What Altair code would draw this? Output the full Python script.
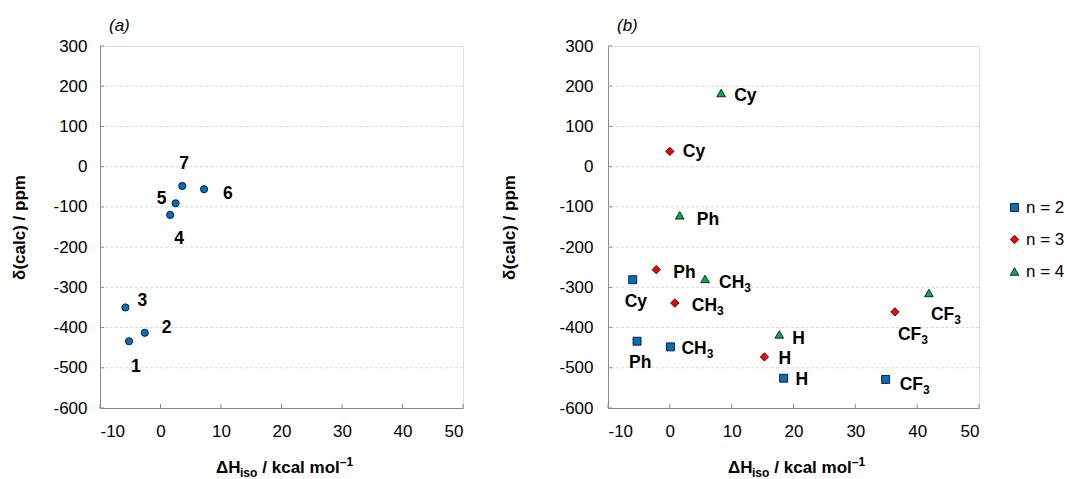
import altair as alt
import pandas as pd

# ---------------- data ----------------
# panel (a)
a_x = [-5.2, -2.6, -5.8, 1.6, 2.5, 7.2, 3.6]
a_y = [-434, -413, -350, -120, -91, -56, -48]
a_labels = ["1", "2", "3", "4", "5", "6", "7"]

# panel (b)
series = ["n = 2", "n = 3", "n = 4"]
b_labels = ["Cy", "Ph", "CH3", "H", "CF3"]
b_x = {
    "n = 2": [-6.0, -5.3, 0.1, 18.4, 34.9],
    "n = 3": [0.0, -2.2, 0.8, 15.3, 36.4],
    "n = 4": [8.3, 1.6, 5.7, 17.7, 41.9],
}
b_y = {
    "n = 2": [-281, -434, -448, -526, -529],
    "n = 3": [38, -256, -339, -473, -361],
    "n = 4": [183, -121, -279, -417, -314],
}

x_ticks = [-10, 0, 10, 20, 30, 40, 50]
y_ticks = [-600, -500, -400, -300, -200, -100, 0, 100, 200, 300]
grid_vals = [-500, -400, -300, -200, -100, 0, 100, 200]

# ---------------- layout / style ----------------
FONT = "Liberation Sans"
GRAY = "#898989"
W_A, W_B, H = 363, 371, 362
COLORS = ["#0070C0", "#FF0000", "#00B050"]
SHAPES = ["square", "diamond", "triangle-up"]
SIZES = [64, 75, 90]

# label offsets (pixels: left edge, baseline)
a_off = {"1": (2, 31), "2": (17, 0), "3": (12, -1), "4": (4, 29),
         "5": (-19, 1), "6": (19, 10), "7": (-3, -17)}
b_off = {
    "n = 2": {"Cy": (-8, 27), "Ph": (-8, 27), "CH3": (11, 7), "H": (12, 7), "CF3": (14, 11)},
    "n = 3": {"Cy": (13, 6), "Ph": (17, 8), "CH3": (17, 8), "H": (14, 7), "CF3": (3, 28)},
    "n = 4": {"Cy": (13, 8), "Ph": (17, 10), "CH3": (14, 9), "H": (13, 10), "CF3": (2, 27)},
}
MAIN = {"CH3": "CH", "CF3": "CF"}
ARIAL_BOLD = {"C": 0.722, "H": 0.722, "F": 0.611, "y": 0.556, "P": 0.667, "h": 0.611}
LFS = 17.5
MINUS_FIX = "replace(datum.label, '\u2212', '-')"


def textw(s, fs):
    return sum(ARIAL_BOLD.get(c, 0.6) for c in s) * fs


def xenc():
    return alt.X("x:Q", scale=alt.Scale(domain=[-10, 50], nice=False, zero=False),
                 axis=alt.Axis(values=x_ticks, title=None, grid=False, ticks=False,
                               labelPadding=15, labelFontSize=17, labelFont=FONT,
                               labelColor="black", domainColor=GRAY, labelExpr=MINUS_FIX))


def yenc(lpad, tpad):
    return alt.Y("y:Q", scale=alt.Scale(domain=[-600, 300], nice=False, zero=False),
                 axis=alt.Axis(values=y_ticks, title="δ(calc) / ppm", titleFont=FONT,
                               titleFontSize=17, titleFontWeight="bold", titleColor="black",
                               titlePadding=tpad, labelPadding=lpad, ticks=False, grid=False,
                               labelFontSize=17, labelFont=FONT, labelColor="black",
                               domainColor=GRAY, labelExpr=MINUS_FIX))


def frame_layers(w, lpad, tpad, tag):
    X, Y = xenc(), yenc(lpad, tpad)
    grid = alt.Chart(pd.DataFrame({"y": grid_vals})).mark_rule(
        color="#d9d9d9", strokeDash=[3, 2], strokeWidth=1).encode(y=Y)
    xt = alt.Chart(pd.DataFrame({"x": x_ticks})).mark_rule(color=GRAY).encode(
        x=X, y=alt.value(H - 4), y2=alt.value(H))
    yt = alt.Chart(pd.DataFrame({"y": y_ticks})).mark_rule(color=GRAY).encode(
        y=Y, x=alt.value(0), x2=alt.value(4))
    # panel tag
    tagl = alt.Chart(pd.DataFrame({"t": [tag]})).mark_text(
        font=FONT, fontSize=17, fontStyle="italic", align="left", baseline="alphabetic",
        color="black").encode(text="t:N", x=alt.value(9), y=alt.value(-15))
    # x title with sub/superscripts
    x0 = w / 2 - 65.5
    yb = H + 65
    pieces = [("ΔH", 17, 0, 0, 24.0), ("iso", 12, 4, 0, 17.8), ("/ kcal mol", 17, 0, 4.5, 77.5),
              ("–1", 12, -7, 0, 13.3)]
    tl = []
    cx = x0
    for txt, fs, off, pre, wd in pieces:
        cx += pre
        tl.append(alt.Chart(pd.DataFrame({"t": [txt]})).mark_text(
            font=FONT, fontSize=fs, fontWeight="bold", align="left", baseline="alphabetic",
            color="black").encode(text="t:N", x=alt.value(cx), y=alt.value(yb + off)))
        cx += wd
    return [grid, xt, yt, tagl] + tl, X, Y


# ---------------- panel (a) ----------------
df_a = pd.DataFrame({"x": a_x, "y": a_y, "label": a_labels})
fa, Xa, Ya = frame_layers(W_A, 13, 24, "(a)")
pts_a = alt.Chart(df_a).mark_point(filled=True, shape="circle", size=52, fill="#0070C0",
                                   stroke="black", strokeWidth=0.8, opacity=1).encode(x=Xa, y=Ya)
lab_a = []
for lab in a_labels:
    dx, dy = a_off[lab]
    lab_a.append(alt.Chart(df_a).transform_filter(alt.datum.label == lab).mark_text(
        font=FONT, fontSize=LFS, fontWeight="bold", align="left", baseline="alphabetic",
        dx=dx, dy=dy, color="black").encode(x=Xa, y=Ya, text="label:N"))
panel_a = alt.layer(*fa, pts_a, *lab_a).properties(width=W_A, height=H)

# ---------------- panel (b) ----------------
rows = []
for s in series:
    for lab, xv, yv in zip(b_labels, b_x[s], b_y[s]):
        rows.append({"series": s, "label": lab, "x": xv, "y": yv,
                     "main": MAIN.get(lab, lab)})
df_b = pd.DataFrame(rows)
fb, Xb, Yb = frame_layers(W_B, 15, 40, "(b)")
leg = alt.Legend(title=None, orient="none", legendX=906, legendY=153, labelFont=FONT,
                 labelFontSize=17, labelColor="black", symbolStrokeColor="black",
                 symbolStrokeWidth=0.8, rowPadding=14, labelOffset=3, symbolSize=70)
pts_b = alt.Chart(df_b).mark_point(filled=True, stroke="black", strokeWidth=0.8, opacity=1).encode(
    x=Xb, y=Yb,
    color=alt.Color("series:N", scale=alt.Scale(domain=series, range=COLORS), legend=leg),
    shape=alt.Shape("series:N", scale=alt.Scale(domain=series, range=SHAPES), legend=leg),
    size=alt.Size("series:N", scale=alt.Scale(domain=series, range=SIZES), legend=None),
)
lab_b = []
for s in series:
    for lab in b_labels:
        dx, dy = b_off[s][lab]
        base = alt.Chart(df_b).transform_filter(
            (alt.datum.series == s) & (alt.datum.label == lab))
        lab_b.append(base.mark_text(font=FONT, fontSize=LFS, fontWeight="bold", align="left",
                                    baseline="alphabetic", dx=dx, dy=dy, color="black").encode(
            x=Xb, y=Yb, text="main:N"))
        if lab in MAIN:
            lab_b.append(base.mark_text(font=FONT, fontSize=12, fontWeight="bold", align="left",
                                        baseline="alphabetic", dx=dx + textw(MAIN[lab], LFS),
                                        dy=dy + 4, color="black").encode(
                x=Xb, y=Yb, text=alt.value("3")))
panel_b = alt.layer(*fb, pts_b, *lab_b).properties(width=W_B, height=H)

chart = alt.hconcat(panel_a, panel_b, spacing=36).properties(
    padding={"left": 10, "top": 16, "right": 0, "bottom": 0}
).configure_view(stroke=GRAY, strokeWidth=1).configure(background="white")

chart.save("out.html", embed_options={"renderer": "svg", "actions": False})
